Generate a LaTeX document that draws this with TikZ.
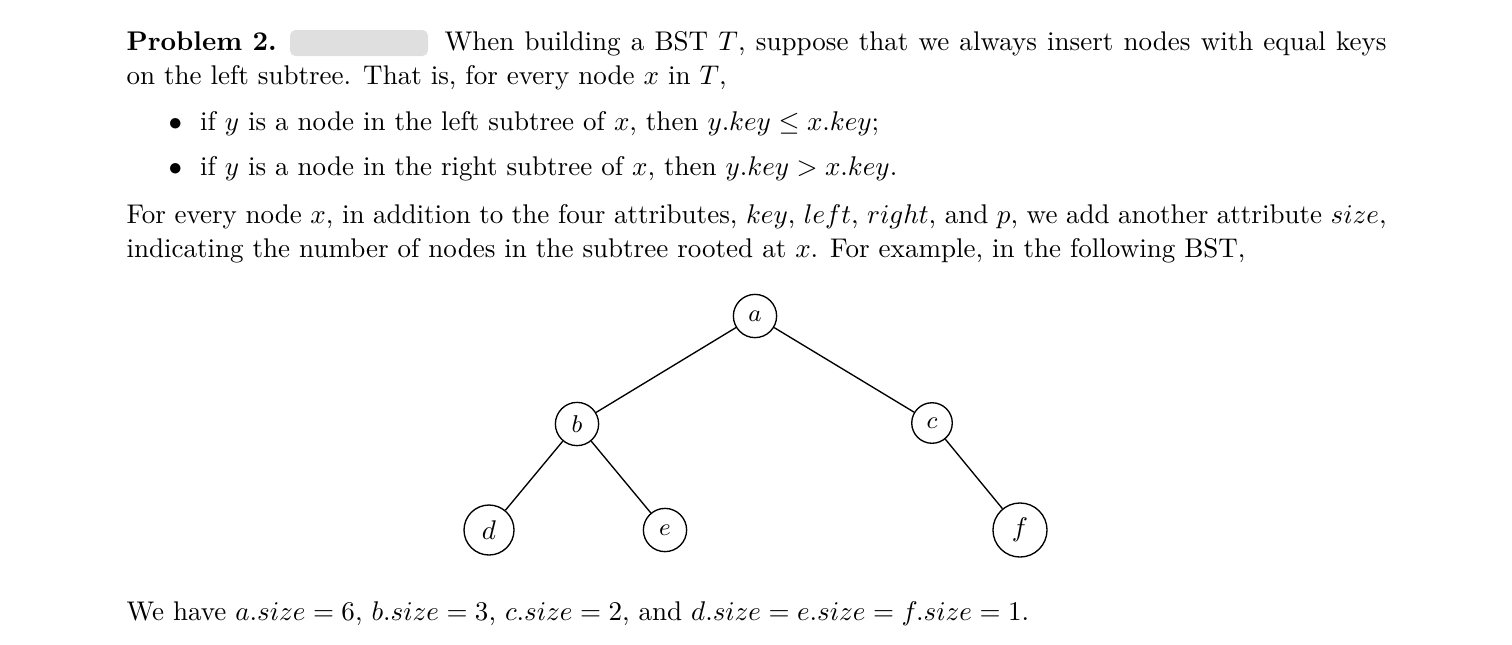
\documentclass[tikz,border=0pt]{standalone}
\usepackage{amsmath}
\tikzset{
  txt/.style={anchor=base west,inner sep=0pt,font=\normalsize},
  tn/.style={draw,circle,inner sep=0pt,thick,line width=0.5pt},
  ed/.style={line width=0.5pt}
}
\begin{document}
\begin{tikzpicture}[x=0.37pt,y=-0.37pt]
\useasboundingbox (0,0) rectangle (1512,644);
\node[txt] (p1) at (126,50) {\textbf{Problem 2.}};
\fill[gray!25,rounded corners=2pt] (290,30) rectangle (428,56);
\node[txt] (l1) at (444,50) {\makebox[348.5pt][s]{When building a BST $T$, suppose that we always insert nodes with equal keys}};
\node[txt] (l2) at (126,84) {on the left subtree. That is, for every node $x$ in $T$,};
\node[txt] (b1) at (168,130) {$\bullet$\ \ if $y$ is a node in the left subtree of $x$, then $y.key\le x.key$;};
\node[txt] (b2) at (168,175) {$\bullet$\ \ if $y$ is a node in the right subtree of $x$, then $y.key> x.key$.};
\node[txt] (l3) at (126,223) {\makebox[466.2pt][s]{For every node $x$, in addition to the four attributes, $key$, $left$, $right$, and $p$, we add another attribute $size$,}};
\node[txt] (l4) at (126,257) {indicating the number of nodes in the subtree rooted at $x$. For example, in the following BST,};
\node[txt] (l5) at (126,620) {We have $a.size=6$, $b.size=3$, $c.size=2$, and $d.size=e.size=f.size=1$.};
\node[tn,minimum size=16pt] (a) at (755,316) {\small$a$};
\node[tn,minimum size=16pt] (b) at (577,424) {\small$b$};
\node[tn,minimum size=15pt] (c) at (932,423) {\small$c$};
\node[tn,minimum size=18.5pt] (d) at (489,530) {$d$};
\node[tn,minimum size=16pt] (e) at (665,530) {\small$e$};
\node[tn,minimum size=20pt] (f) at (1020,530) {$f$};
\draw[ed] (a)--(b); \draw[ed] (a)--(c);
\draw[ed] (b)--(d); \draw[ed] (b)--(e);
\draw[ed] (c)--(f);
\end{tikzpicture}
\end{document}
